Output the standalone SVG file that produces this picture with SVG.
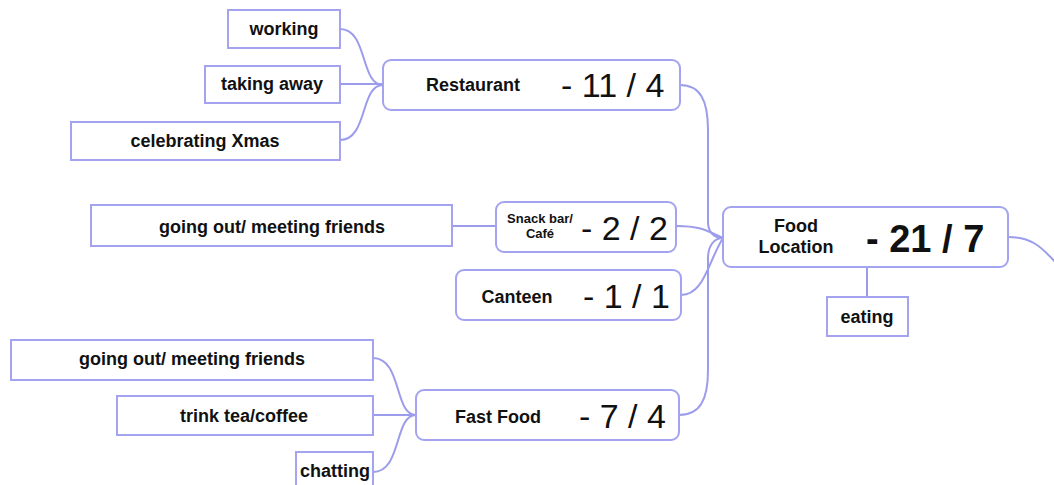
<svg xmlns="http://www.w3.org/2000/svg" width="1054" height="485" viewBox="0 0 1054 485">
  <style>
    .leaf { fill: #ffffff; stroke: #a3a3f0; stroke-width: 2; }
    .hub { fill: #ffffff; stroke: #a3a3f0; stroke-width: 2; }
    .link { fill: none; stroke: #9c9cec; stroke-width: 2; }
    .lbl { font-family: "Liberation Sans", Arial, sans-serif; font-weight: bold; font-size: 18px; fill: #111; text-anchor: middle; }
    .num { font-family: "Liberation Sans", Arial, sans-serif; font-size: 34px; fill: #111; }
  </style>
  <rect width="1054" height="485" fill="#ffffff"/>

  <g id="connectors">
    <!-- Restaurant branch -->
    <path class="link" d="M340,29 C368,29 360,85 383,85"/>
    <path class="link" d="M340,84 L383,84"/>
    <path class="link" d="M340,140 C368,140 360,85 383,85"/>
    <!-- Snack bar branch -->
    <path class="link" d="M451,226 L496,226"/>
    <!-- Fast Food branch -->
    <path class="link" d="M373,358 C402,358 394,415 416,415"/>
    <path class="link" d="M373,415 L416,415"/>
    <path class="link" d="M373,472 C402,472 394,415 416,415"/>
    <!-- into Food Location -->
    <path class="link" d="M680,85 C700,85 708,100 708,130 L708,222 C708,232 714,238 723,238"/>
    <path class="link" d="M676,226 C700,226 706,230 723,238"/>
    <path class="link" d="M681,295 C704,295 708,262 723,238"/>
    <path class="link" d="M679,415 C700,415 708,400 708,370 L708,258 C708,246 714,238 723,238"/>
    <path class="link" d="M867,267 L867,297"/>
    <path class="link" d="M1008,237 C1030,237 1040,245 1056,263"/>
  </g>

  <g id="node-working">
    <rect class="leaf" x="228" y="10" width="112" height="38"/>
    <text class="lbl" x="284" y="35">working</text>
  </g>
  <g id="node-taking-away">
    <rect class="leaf" x="205" y="66" width="135" height="37"/>
    <text class="lbl" x="272" y="90">taking away</text>
  </g>
  <g id="node-celebrating">
    <rect class="leaf" x="71" y="122" width="269" height="38"/>
    <text class="lbl" x="205" y="147">celebrating Xmas</text>
  </g>
  <g id="node-restaurant">
    <rect class="hub" x="383" y="60" width="297" height="50" rx="8"/>
    <text class="lbl" x="473" y="91">Restaurant</text>
    <text class="num" x="561" y="97">- 11 / 4</text>
  </g>

  <g id="node-snack-going-out">
    <rect class="leaf" x="91" y="205" width="361" height="41"/>
    <text class="lbl" x="272" y="233">going out/ meeting friends</text>
  </g>
  <g id="node-snack-bar">
    <rect class="hub" x="496" y="202" width="180" height="50" rx="8"/>
    <text class="lbl" x="540" y="223" style="font-size:13px">Snack bar/</text>
    <text class="lbl" x="540" y="238" style="font-size:13px">Café</text>
    <text class="num" x="581" y="240">- 2 / 2</text>
  </g>

  <g id="node-canteen">
    <rect class="hub" x="456" y="270" width="225" height="50" rx="8"/>
    <text class="lbl" x="517" y="303">Canteen</text>
    <text class="num" x="583" y="308">- 1 / 1</text>
  </g>

  <g id="node-ff-going-out">
    <rect class="leaf" x="11" y="340" width="362" height="40"/>
    <text class="lbl" x="192" y="365">going out/ meeting friends</text>
  </g>
  <g id="node-trink">
    <rect class="leaf" x="117" y="396" width="256" height="39"/>
    <text class="lbl" x="244" y="422">trink tea/coffee</text>
  </g>
  <g id="node-chatting">
    <rect class="leaf" x="296" y="452" width="77" height="40"/>
    <text class="lbl" x="335" y="477">chatting</text>
  </g>
  <g id="node-fast-food">
    <rect class="hub" x="416" y="390" width="263" height="50" rx="8"/>
    <text class="lbl" x="498" y="423">Fast Food</text>
    <text class="num" x="579" y="428">- 7 / 4</text>
  </g>

  <g id="node-food-location">
    <rect class="hub" x="723" y="207" width="285" height="60" rx="8"/>
    <text class="lbl" x="796" y="232">Food</text>
    <text class="lbl" x="796" y="253">Location</text>
    <text class="num" x="866" y="252" style="font-weight:bold;font-size:38px">- 21 / 7</text>
  </g>
  <g id="node-eating">
    <rect class="leaf" x="827" y="297" width="81" height="39"/>
    <text class="lbl" x="867" y="323">eating</text>
  </g>
</svg>
